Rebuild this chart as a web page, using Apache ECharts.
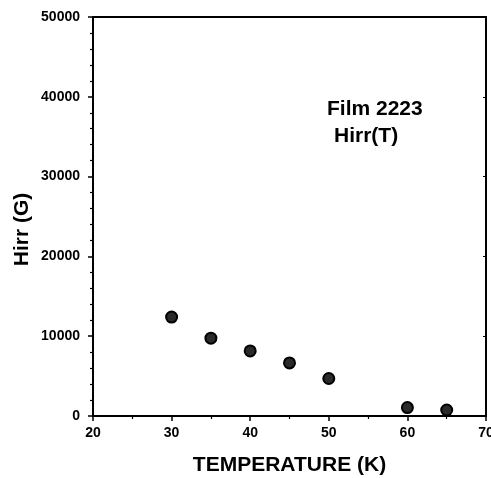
<!DOCTYPE html>
<html>
<head>
<meta charset="utf-8">
<script src="https://cdn.jsdelivr.net/npm/echarts@6/dist/echarts.min.js"></script>
<style>
html,body{margin:0;padding:0;background:#fff;}
#chart{width:491px;height:478px;}
</style>
</head>
<body>
<div id="chart"></div>
<script>
// Data
const temperatureK = [30, 35, 40, 45, 50, 60, 65];
const hirrG = [12400, 9750, 8150, 6650, 4700, 1050, 750];
const annotationLines = ["Film 2223", "Hirr(T)"];
const xAxisTitle = "TEMPERATURE (K)";
const yAxisTitle = "Hirr (G)";

const points = temperatureK.map((t, i) => [t, hirrG[i]]);
const FONT = '"Liberation Sans", Arial, sans-serif';

const chart = echarts.init(document.getElementById('chart'), null, {renderer: 'canvas'});
chart.setOption({
  backgroundColor: '#ffffff',
  animation: false,
  grid: {left: 93, right: 5, top: 17, bottom: 62, containLabel: false, outerBoundsMode: 'none'},
  xAxis: [{
    type: 'value', min: 20, max: 70, interval: 10, position: 'bottom',
    name: xAxisTitle, nameLocation: 'middle', nameGap: 39,
    nameTextStyle: {fontFamily: FONT, fontWeight: 'bold', fontSize: 21, color: '#000'},
    axisLine: {show: true, onZero: false, lineStyle: {color: '#000', width: 2}},
    axisTick: {show: true, inside: false, length: 5, lineStyle: {color: '#000', width: 1.5}},
    minorTick: {show: true, splitNumber: 2, length: 3, lineStyle: {color: '#000', width: 1.2}},
    axisLabel: {fontFamily: FONT, fontWeight: 'bold', fontSize: 14, color: '#000', margin: 10,
      formatter: v => String(v)},
    splitLine: {show: false}
  }, {
    type: 'value', min: 20, max: 70, interval: 10, position: 'top',
    axisLine: {show: true, onZero: false, lineStyle: {color: '#000', width: 2}},
    axisTick: {show: false}, axisLabel: {show: false}, splitLine: {show: false}
  }],
  yAxis: [{
    type: 'value', min: 0, max: 50000, interval: 10000, position: 'left',
    name: yAxisTitle, nameLocation: 'middle', nameGap: 60, nameRotate: 90, nameMoveOverlap: false,
    nameTextStyle: {fontFamily: FONT, fontWeight: 'bold', fontSize: 21, color: '#000', padding: [0, 26, 0, 0]},
    axisLine: {show: true, onZero: false, lineStyle: {color: '#000', width: 2}},
    axisTick: {show: true, inside: false, length: 5, lineStyle: {color: '#000', width: 1.5}},
    minorTick: {show: true, splitNumber: 5, length: 3, lineStyle: {color: '#000', width: 1.2}},
    axisLabel: {fontFamily: FONT, fontWeight: 'bold', fontSize: 14, color: '#000', margin: 13,
      formatter: v => String(v)},
    splitLine: {show: false}
  }, {
    type: 'value', min: 0, max: 50000, interval: 10000, position: 'right',
    axisLine: {show: true, onZero: false, lineStyle: {color: '#000', width: 2}},
    axisTick: {show: true, inside: true, length: 3, lineStyle: {color: '#000', width: 1}},
    axisLabel: {show: false}, splitLine: {show: false}
  }],
  series: [{
    type: 'scatter', xAxisIndex: 0, yAxisIndex: 0,
    data: points, symbol: 'circle', symbolSize: 11,
    itemStyle: {color: '#2a2a2a', borderColor: '#000', borderWidth: 2, opacity: 1}
  }],
  graphic: [
    {type: 'text', left: 327, top: 99, style: {text: annotationLines[0], font: 'bold 21px ' + FONT, fill: '#000'}},
    {type: 'text', left: 334, top: 126, style: {text: annotationLines[1], font: 'bold 21px ' + FONT, fill: '#000'}}
  ]
});
</script>
</body>
</html>
